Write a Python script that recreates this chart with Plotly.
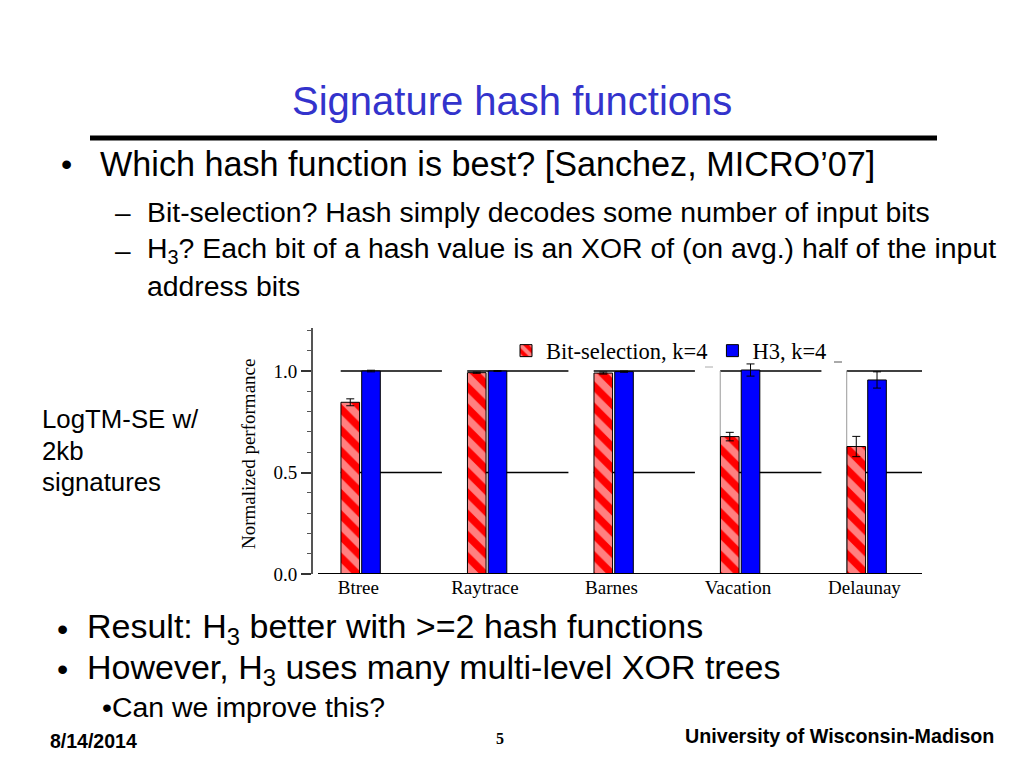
import plotly.graph_objects as go

# ---------------- data ----------------
categories = ["Btree", "Raytrace", "Barnes", "Vacation", "Delaunay"]
bitsel_vals = [0.846, 0.992, 0.990, 0.677, 0.628]
bitsel_err = [0.017, 0.003, 0.005, 0.021, 0.050]
h3_vals = [1.000, 1.000, 0.997, 1.005, 0.956]
h3_err = [0.004, 0.002, 0.003, 0.030, 0.040]
series_names = ["Bit-selection, k=4", "H3, k=4"]
y_tickvals = [0.0, 0.5, 1.0]
y_ticktext = ["0.0", "0.5", "1.0"]

# ---------------- geometry helpers ----------------
OX, OY = 8, 7  # page offset of the rendered figure
L, R, T, B = 313 - OX, 922 - OX, 327 - OY, 573 - OY
W, H = R - L, B - T


def px(x):
    return (x - OX - L) / W


def py(y):
    return (B - (y - OY)) / H


xs = list(range(len(categories)))
XMIN, XMAX = -0.379, 4.435
YMAX = 1.212
BW = 0.147

fig = go.Figure()
fig.add_trace(go.Bar(
    x=xs, y=bitsel_vals, name=series_names[0],
    width=BW, offset=-0.158,
    marker=dict(color="#ff0000", line=dict(color="black", width=1),
                pattern=dict(shape="\\", fgcolor="white", bgcolor="#ff0000",
                             size=15, solidity=0.5)),
    error_y=dict(type="data", array=bitsel_err, color="black", thickness=1, width=4),
))
fig.add_trace(go.Bar(
    x=xs, y=h3_vals, name=series_names[1],
    width=BW, offset=0.006,
    marker=dict(color="#0000ff", line=dict(color="black", width=1)),
    error_y=dict(type="data", array=h3_err, color="black", thickness=1, width=4),
))

shapes = []
for i in xs:
    x0 = i - 0.16
    x1 = min(i + 0.64, XMAX)
    for gy in (0.5, 1.0):
        shapes.append(dict(type="line", xref="x", yref="y", x0=x0, x1=x1, y0=gy, y1=gy,
                           line=dict(color="black", width=1.5), layer="below"))
    if i >= 3:
        shapes.append(dict(type="line", xref="x", yref="y", x0=x0, x1=x0, y0=0, y1=1.0,
                           line=dict(color="#999999", width=1), layer="below"))
# baseline
shapes.append(dict(type="line", xref="paper", yref="y", x0=px(318), x1=1, y0=0, y1=0,
                   line=dict(color="black", width=2)))
# small dash artifacts in legend
shapes.append(dict(type="line", xref="paper", yref="paper", x0=px(705), x1=px(713),
                   y0=py(366), y1=py(366), line=dict(color="#aaaaaa", width=1)))
shapes.append(dict(type="line", xref="paper", yref="paper", x0=px(834), x1=px(842),
                   y0=py(361), y1=py(361), line=dict(color="#555555", width=1)))
# slide rule under title
shapes.append(dict(type="line", xref="paper", yref="paper", x0=px(90), x1=px(937),
                   y0=py(137), y1=py(137), line=dict(color="black", width=5)))

SANS = "Liberation Sans, Arial, sans-serif"
SERIF = "Liberation Serif, Times New Roman, serif"

ann = []


def txt(x, y, text, size, color="black", family=SANS, xanchor="left", bold=False):
    if bold:
        text = "<b>" + text + "</b>"
    ann.append(dict(xref="paper", yref="paper", x=px(x), y=py(y), text=text,
                    showarrow=False, xanchor=xanchor, yanchor="middle",
                    font=dict(size=size, color=color, family=family)))


txt(512, 100, "Signature hash functions", 40, color="#3333cc", xanchor="center")
txt(59, 163, "•", 32)
txt(98, 163, "Which hash function is best? [Sanchez, MICRO’07]", 34.2)
txt(113, 211, "–", 28)
txt(145, 211, "Bit-selection? Hash simply decodes some number of input bits", 28.4)
txt(113, 249, "–", 28)
txt(145, 249, "H<sub>3</sub>? Each bit of a hash value is an XOR of (on avg.) half of the input", 28.4)
txt(145, 285, "address bits", 28.4)
txt(40, 418, "LogTM-SE w/", 25.8)
txt(40, 450, "2kb", 25.8)
txt(40, 481, "signatures", 25.8)
txt(55, 628, "•", 32)
txt(85, 627, "Result: H<sub>3</sub> better with >=2 hash functions", 34)
txt(55, 668, "•", 32)
txt(85, 668, "However, H<sub>3</sub> uses many multi-level XOR trees", 34)
txt(100, 706, "•Can we improve this?", 28.4)
txt(48, 740, "8/14/2014", 19.5, bold=True)
txt(500, 737, "5", 16, family=SERIF, xanchor="center", bold=True)
txt(683, 735, "University of Wisconsin-Madison", 19.7, bold=True)

# y-axis title
ann.append(dict(xref="paper", yref="paper", x=px(248), y=py(453), text="Normalized performance",
                textangle=-90, showarrow=False, xanchor="center", yanchor="middle",
                font=dict(size=19, color="black", family=SERIF)))

fig.update_layout(
    width=1024, height=768,
    margin=dict(l=L, r=1024 - R, t=T, b=768 - B, pad=0),
    paper_bgcolor="white", plot_bgcolor="white",
    barmode="overlay",
    showlegend=True,
    legend=dict(orientation="h", x=px(506), y=py(350), xanchor="left", yanchor="middle",
                font=dict(size=22.5, family=SERIF, color="black"),
                bgcolor="rgba(0,0,0,0)", itemwidth=30, tracegroupgap=0),
    xaxis=dict(range=[XMIN, XMAX], tickvals=[i - 0.02 for i in xs], ticktext=categories,
               showgrid=False, zeroline=False, showline=False, ticks="",
               tickfont=dict(size=19, family=SERIF, color="black")),
    yaxis=dict(range=[0, YMAX], tickvals=y_tickvals, ticktext=y_ticktext,
               showgrid=False, zeroline=False, showline=True, linecolor="#555555", linewidth=2,
               ticks="outside", ticklen=10, tickcolor="#333333", tickwidth=1.5,
               tickfont=dict(size=19, family=SERIF, color="black"),
               minor=dict(dtick=0.1, ticks="outside", ticklen=4, tickcolor="#555555", tickwidth=1)),
    shapes=shapes,
    annotations=ann,
)

fig.write_html("out.html")
